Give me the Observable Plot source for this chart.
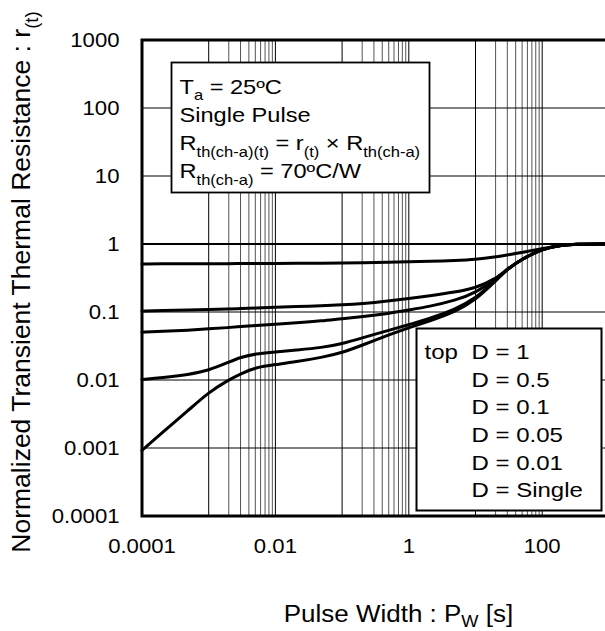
<!DOCTYPE html>
<html>
<head>
<meta charset="utf-8">
<script src="https://cdn.jsdelivr.net/npm/d3@7"></script>
<script src="https://cdn.jsdelivr.net/npm/@observablehq/plot@0.6"></script>
<style>
  html, body { margin: 0; padding: 0; background: white; }
</style>
</head>
<body>
<div id="chart"></div>
<script>
// ---- data ----
const pulseWidth = [1e-4, 2e-4, 5e-4, 1e-3, 2e-3, 3e-3, 5e-3, 1e-2, 2e-2, 5e-2, 0.1, 0.2, 0.5, 1, 2, 5, 10, 20, 30, 50, 100, 200, 300, 1000];
const rD1      = [1, 1, 1, 1, 1, 1, 1, 1, 1, 1, 1, 1, 1, 1, 1, 1, 1, 1, 1, 1, 1, 1, 1, 1];
const rD05     = [0.51, 0.511, 0.512, 0.513, 0.514, 0.515, 0.516, 0.518, 0.52, 0.523, 0.526, 0.53, 0.538, 0.546, 0.555, 0.572, 0.592, 0.645, 0.69, 0.75, 0.86, 0.965, 0.995, 1];
const rD01     = [0.103, 0.105, 0.107, 0.109, 0.111, 0.112, 0.114, 0.117, 0.12, 0.124, 0.127, 0.132, 0.145, 0.158, 0.172, 0.196, 0.225, 0.305, 0.43, 0.6, 0.85, 0.97, 0.995, 1];
const rD005    = [0.0505, 0.052, 0.054, 0.0566, 0.059, 0.061, 0.063, 0.066, 0.069, 0.074, 0.08, 0.085, 0.095, 0.107, 0.12, 0.148, 0.192, 0.3, 0.43, 0.6, 0.85, 0.97, 0.995, 1];
const rD001    = [0.0102, 0.0108, 0.012, 0.0138, 0.0183, 0.0216, 0.0243, 0.0257, 0.0275, 0.03, 0.034, 0.0415, 0.054, 0.065, 0.079, 0.11, 0.158, 0.29, 0.43, 0.6, 0.85, 0.97, 0.995, 1];
const rSingle  = [0.00092, 0.00168, 0.0036, 0.0066, 0.0101, 0.0123, 0.0153, 0.0169, 0.0185, 0.0215, 0.0252, 0.0325, 0.046, 0.0586, 0.073, 0.101, 0.15, 0.285, 0.43, 0.6, 0.85, 0.97, 0.995, 1];

const xMajor = [1e-4, 1e-3, 1e-2, 1e-1, 1, 10, 100, 1000];
const xMinor = [0.002, 0.003, 0.004, 0.005, 0.006, 0.007, 0.008, 0.009,
                0.2, 0.3, 0.4, 0.5, 0.6, 0.7, 0.8, 0.9,
                20, 30, 40, 50, 60, 70, 80, 90];
const yMajor = [1e-4, 1e-3, 1e-2, 1e-1, 1, 10, 100, 1000];

const xTicks = [0.0001, 0.01, 1, 100];
const xTickLabels = ["0.0001", "0.01", "1", "100"];
const yTicks = [0.0001, 0.001, 0.01, 0.1, 1, 10, 100, 1000];
const yTickLabels = ["0.0001", "0.001", "0.01", "0.1", "1", "10", "100", "1000"];

const noteLines = ["T_{a} = 25ºC", "Single Pulse", "R_{th(ch-a)(t)} = r_{(t)} × R_{th(ch-a)}", "R_{th(ch-a)} = 70ºC/W"];
const legendTop = "top";
const legendLabels = ["D = 1", "D = 0.5", "D = 0.1", "D = 0.05", "D = 0.01", "D = Single"];
const xTitle = "Pulse Width : P_{W} [s]";
const yTitle = "Normalized Transient Thermal Resistance : r_{(t)}";

// table for the library
const series = [
  {name: "D = 0.5", values: rD05},
  {name: "D = 0.1", values: rD01},
  {name: "D = 0.05", values: rD005},
  {name: "D = 0.01", values: rD001},
  {name: "D = Single", values: rSingle}
];
const rows = series.flatMap(s => pulseWidth.map((t, i) => ({series: s.name, t, r: s.values[i]})));
const rowsD1 = pulseWidth.map((t, i) => ({t, r: rD1[i]}));

const FONT = 20;
const chart = Plot.plot({
  width: 605,
  height: 631,
  marginTop: 39.5,
  marginBottom: 115.5,
  marginLeft: 141.5,
  marginRight: -3.4,
  style: {fontFamily: "'Liberation Sans', Arial, Helvetica, sans-serif", background: "white", color: "black"},
  x: {type: "log", domain: [1e-4, 1e3], axis: null},
  y: {type: "log", domain: [1e-4, 1e3], axis: null},
  marks: [
    Plot.ruleX(xMinor, {stroke: "#555", strokeWidth: 1}),
    Plot.ruleX(xMajor, {stroke: "#000", strokeWidth: 1}),
    Plot.ruleY(yMajor, {stroke: "#000", strokeWidth: 1}),
    Plot.line(rowsD1, {x: "t", y: "r", stroke: "black", strokeWidth: 2}),
    Plot.line(rows, {x: "t", y: "r", z: "series", stroke: "black", strokeWidth: 3, curve: "basis"}),
    // annotation box
    Plot.frame({fill: "white", stroke: "black", strokeWidth: 1.8, insetLeft: 29.5, insetTop: 22.5, insetRight: 179.4, insetBottom: 323.5}),
    ...noteLines.map((s, i) => Plot.text([s], {
      frameAnchor: "top-left", textAnchor: "start", lineAnchor: "bottom",
      dx: 37.5, dy: 53.8 + i * 28.2, fontSize: FONT, fill: "black"
    })),
    // legend box
    Plot.frame({fill: "white", stroke: "black", strokeWidth: 2, insetLeft: 274.5, insetTop: 288.5, insetRight: 7.4, insetBottom: 5.5}),
    Plot.text([legendTop], {frameAnchor: "top-left", textAnchor: "start", lineAnchor: "bottom", dx: 282.5, dy: 318.8, fontSize: FONT, fill: "black"}),
    ...legendLabels.map((s, i) => Plot.text([s], {
      frameAnchor: "top-left", textAnchor: "start", lineAnchor: "bottom",
      dx: 329.5, dy: 318.8 + i * 27.7, fontSize: FONT, fill: "black"
    })),
    // tick labels
    Plot.text(yTicks, {y: d => d, text: (d, i) => yTickLabels[i], frameAnchor: "left", textAnchor: "end", lineAnchor: "middle", dx: -22.5, fontSize: 20.5, fill: "black"}),
    Plot.text(xTicks, {x: d => d, text: (d, i) => xTickLabels[i], frameAnchor: "bottom", textAnchor: "middle", lineAnchor: "middle", dy: 30, fontSize: 20.5, fill: "black"}),
    // titles
    Plot.text([xTitle], {frameAnchor: "bottom", textAnchor: "middle", lineAnchor: "bottom", dx: 23, dy: 106, fontSize: 23, fill: "black"}),
    Plot.text([yTitle], {frameAnchor: "left", textAnchor: "middle", lineAnchor: "bottom", rotate: -90, dx: -112, dy: 4, fontSize: 26.5, fill: "black"}),
    Plot.frame({stroke: "black", strokeWidth: 3})
  ]
});

// rich text: subscripts written as _{...}
const NS = "http://www.w3.org/2000/svg";
function richify(t, SHIFT) {
  const s = t.textContent;
  if (!s.includes("_{")) return;
  while (t.firstChild) t.removeChild(t.firstChild);
  const re = /_\{([^}]*)\}/g;
  let last = 0, m, prevSub = false;
  const SUB = 0.7; // sub size
  function add(str, sub) {
    const ts = document.createElementNS(NS, "tspan");
    ts.textContent = str;
    if (sub) {
      ts.setAttribute("font-size", (SUB * 100) + "%");
      if (!prevSub) ts.setAttribute("dy", (SHIFT / SUB).toFixed(4) + "em");
    } else if (prevSub) {
      ts.setAttribute("dy", (-SHIFT).toFixed(4) + "em");
    }
    prevSub = sub;
    t.appendChild(ts);
  }
  while ((m = re.exec(s))) {
    if (m.index > last) add(s.slice(last, m.index), false);
    add(m[1], true);
    last = re.lastIndex;
  }
  if (last < s.length) add(s.slice(last), false);
}
// horizontal widening of the reference's lettering
const widen = new Map();
noteLines.forEach(s => widen.set(s, 1.18));
[legendTop, ...legendLabels].forEach(s => widen.set(s, 1.2));
[...yTickLabels, ...xTickLabels].forEach(s => widen.set(s, 1.08));
widen.set(xTitle, 1.13);
chart.querySelectorAll("text").forEach(t => {
  const s = t.textContent;
  const k = widen.get(s);
  richify(t, s === xTitle ? 0.22 : 0.32);
  if (k && k !== 1) {
    const tr = t.getAttribute("transform") || "";
    t.setAttribute("transform", `${tr} scale(${k},1)`);
  }
});
document.getElementById("chart").appendChild(chart);
</script>
</body>
</html>
